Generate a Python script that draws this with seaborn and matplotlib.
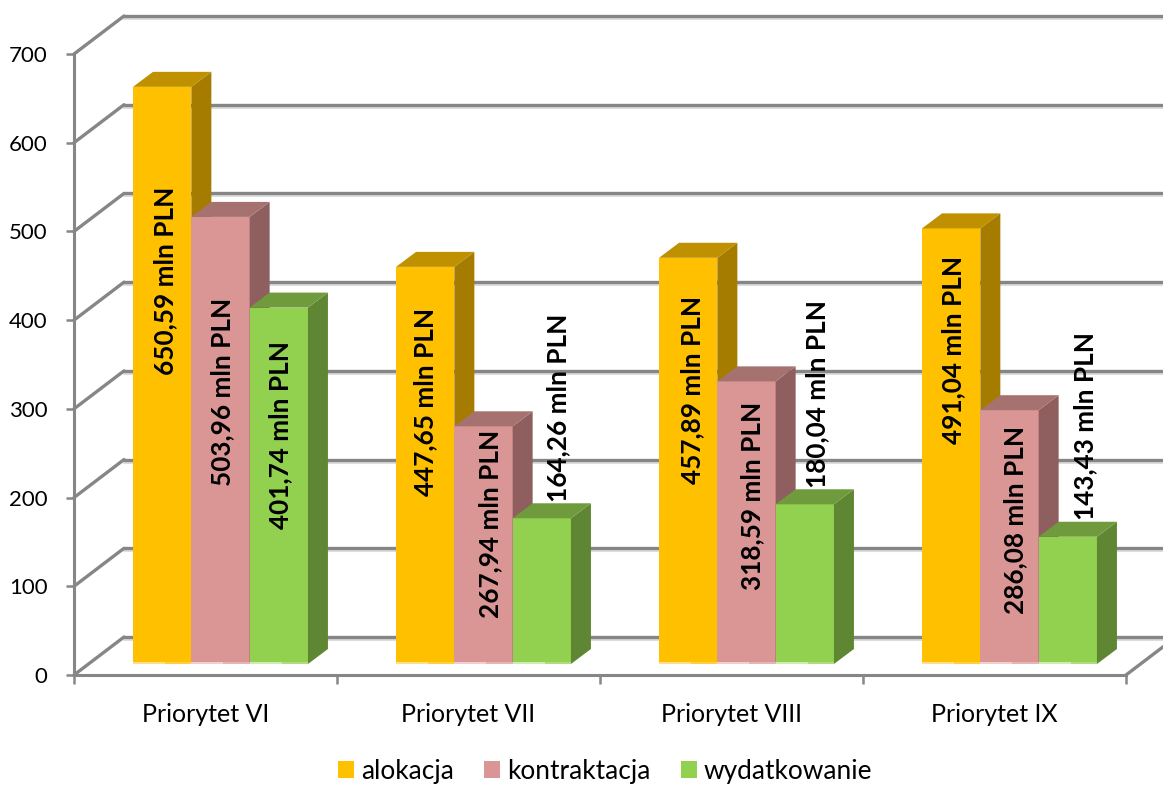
import pandas as pd
import numpy as np
import matplotlib
matplotlib.use("Agg")
import matplotlib.pyplot as plt
from matplotlib.patches import Polygon
from matplotlib.transforms import Affine2D
import seaborn as sns

categories = ["Priorytet VI", "Priorytet VII", "Priorytet VIII", "Priorytet IX"]
alokacja = [650.59, 447.65, 457.89, 491.04]
kontraktacja = [503.96, 267.94, 318.59, 286.08]
wydatkowanie = [401.74, 164.26, 180.04, 143.43]
series_names = ["alokacja", "kontraktacja", "wydatkowanie"]

colors = ["#FFC000", "#D99694", "#92D050"]
top_colors = ["#BF9000", "#A57270", "#6F9B3D"]
side_colors = ["#A67C00", "#8E5F5E", "#5F8733"]
strip_colors = ["#FFE08A", "#F0D0CF", "#CFEBB0"]
strip2_colors = ["#FFCF40", "#E6B4B3", "#AEDD7C"]
GRAY = "#868686"

W, H = 1163, 785

sns.set_style("white")
plt.rcParams["font.family"] = ["Lato", "DejaVu Sans"]

df = pd.DataFrame({
    "priorytet": categories * 3,
    "seria": sum([[n] * 4 for n in series_names], []),
    "wartosc": alokacja + kontraktacja + wydatkowanie,
})

fig = plt.figure(figsize=(W / 100, H / 100), dpi=100)
ax = fig.add_axes([74 / W, (H - 675) / H, 1052 / W, 621 / H])

sns.barplot(data=df, x="priorytet", y="wartosc", hue="seria", order=categories,
            hue_order=series_names, palette=colors, width=0.665, gap=0, saturation=1,
            linewidth=0, ax=ax)

ax.set_xlim(-0.5, 3.5)
ax.set_ylim(0, 700)
ax.set_yticks(range(0, 701, 100))
ax.set_xticks(np.arange(-0.5, 4, 1))
ax.set_xticklabels([])
ax.set_xlabel("")
ax.set_ylabel("")
for s in ["top", "right"]:
    ax.spines[s].set_visible(False)
for s in ["left", "bottom"]:
    ax.spines[s].set_color(GRAY)
    ax.spines[s].set_linewidth(2.2)
ax.tick_params(axis="y", length=6, width=1.8, color=GRAY, pad=13, labelsize=16, labelcolor="black", left=True)
ax.tick_params(axis="x", length=6.5, width=1.8, color=GRAY, bottom=True)

for i, name in enumerate(categories):
    ax.text(i, -39 / 0.887, name, ha="center", va="center", fontsize=18, color="black")

# tylna sciana: siatka przesunieta o glebokosc wykresu
back = ax.transData + Affine2D().translate(50, 38)
back_shadow = ax.transData + Affine2D().translate(50, 35)
for v in range(0, 701, 100):
    ax.plot([-0.5, 3.7], [v, v], color="#DDDDDD", lw=1.5, transform=back_shadow, clip_on=False, zorder=0.5)
    ax.plot([-0.5, 3.7], [v, v], color=GRAY, lw=2.4, transform=back, clip_on=False, zorder=0.6)
    p0 = ax.transData.transform((-0.5, v))
    ax.plot([p0[0], p0[0] + 50], [p0[1], p0[1] + 38], color=GRAY, lw=2.4,
            transform=None, clip_on=False, zorder=0.6)
p0 = ax.transData.transform((3.5, 0))
ax.plot([p0[0], p0[0] + 50], [p0[1], p0[1] + 38], color=GRAY, lw=2.4, transform=None, clip_on=False, zorder=0.6)

# slupki 3D: front z seaborna, gora i bok dorysowane
shift = ax.transData + Affine2D().translate(15, 11)
dx, dy = 20, 15
for i, cont in enumerate(ax.containers):
    for bar in cont:
        bar.set_transform(shift)
        bar.set_clip_on(False)
        bar.set_zorder(3 + i)
        x0, w, h = bar.get_x(), bar.get_width(), bar.get_height()
        a = shift.transform([(x0, 0), (x0 + w, 0), (x0 + w, h), (x0, h)])
        px = a[1][0] - a[0][0]
        side = [a[1], a[1] + (dx, dy), a[2] + (dx, dy), a[2]]
        top = [a[3], a[2], a[2] + (dx, dy), a[3] + (dx, dy)]
        ax.add_patch(Polygon(side, closed=True, fc=side_colors[i], ec="none", transform=None, clip_on=False, zorder=3 + i))
        ax.add_patch(Polygon(top, closed=True, fc=top_colors[i], ec="none", transform=None, clip_on=False, zorder=3 + i))
        # jasniejszy pasek przy podstawie
        strip2 = [a[0], a[1], a[1] + (0, 2), a[0] + (0, 2)]
        strip = [a[0], a[0] + (px * 0.55, 0), a[0] + (px * 0.55, 2), a[0] + (0, 2)]
        ax.add_patch(Polygon(strip2, closed=True, fc=strip2_colors[i], ec="none", transform=None, clip_on=False, zorder=3.4 + i))
        ax.add_patch(Polygon(strip, closed=True, fc=strip_colors[i], ec="none", transform=None, clip_on=False, zorder=3.5 + i))

# etykiety wartosci sa recznie przesuniete w oryginale
label_texts = ["650,59 mln PLN", "503,96 mln PLN", "401,74 mln PLN",
               "447,65 mln PLN", "267,94 mln PLN", "164,26 mln PLN",
               "457,89 mln PLN", "318,59 mln PLN", "180,04 mln PLN",
               "491,04 mln PLN", "286,08 mln PLN", "143,43 mln PLN"]
label_x = [165, 222, 280, 425, 490, 558, 692, 752, 817, 953, 1015, 1085]
label_y = [281, 392, 435, 402, 524, 408, 390, 496, 394, 350, 520, 426]
for t, lx, ly in zip(label_texts, label_x, label_y):
    fig.text(lx / W, 1 - ly / H, t, rotation=90, ha="center", va="center",
             fontsize=18.8, fontweight="bold", color="black", zorder=20)

handles, labels = ax.get_legend_handles_labels()
ax.get_legend().remove()
leg = fig.legend(handles, labels, ncol=3, frameon=False, loc="center",
                 bbox_to_anchor=(605 / W, 1 - 771 / H), fontsize=18.9, handlelength=0.61,
                 handleheight=0.61, handletextpad=0.27, columnspacing=1.15, borderpad=0, labelcolor="black")

fig.savefig("out.png", dpi=100)
